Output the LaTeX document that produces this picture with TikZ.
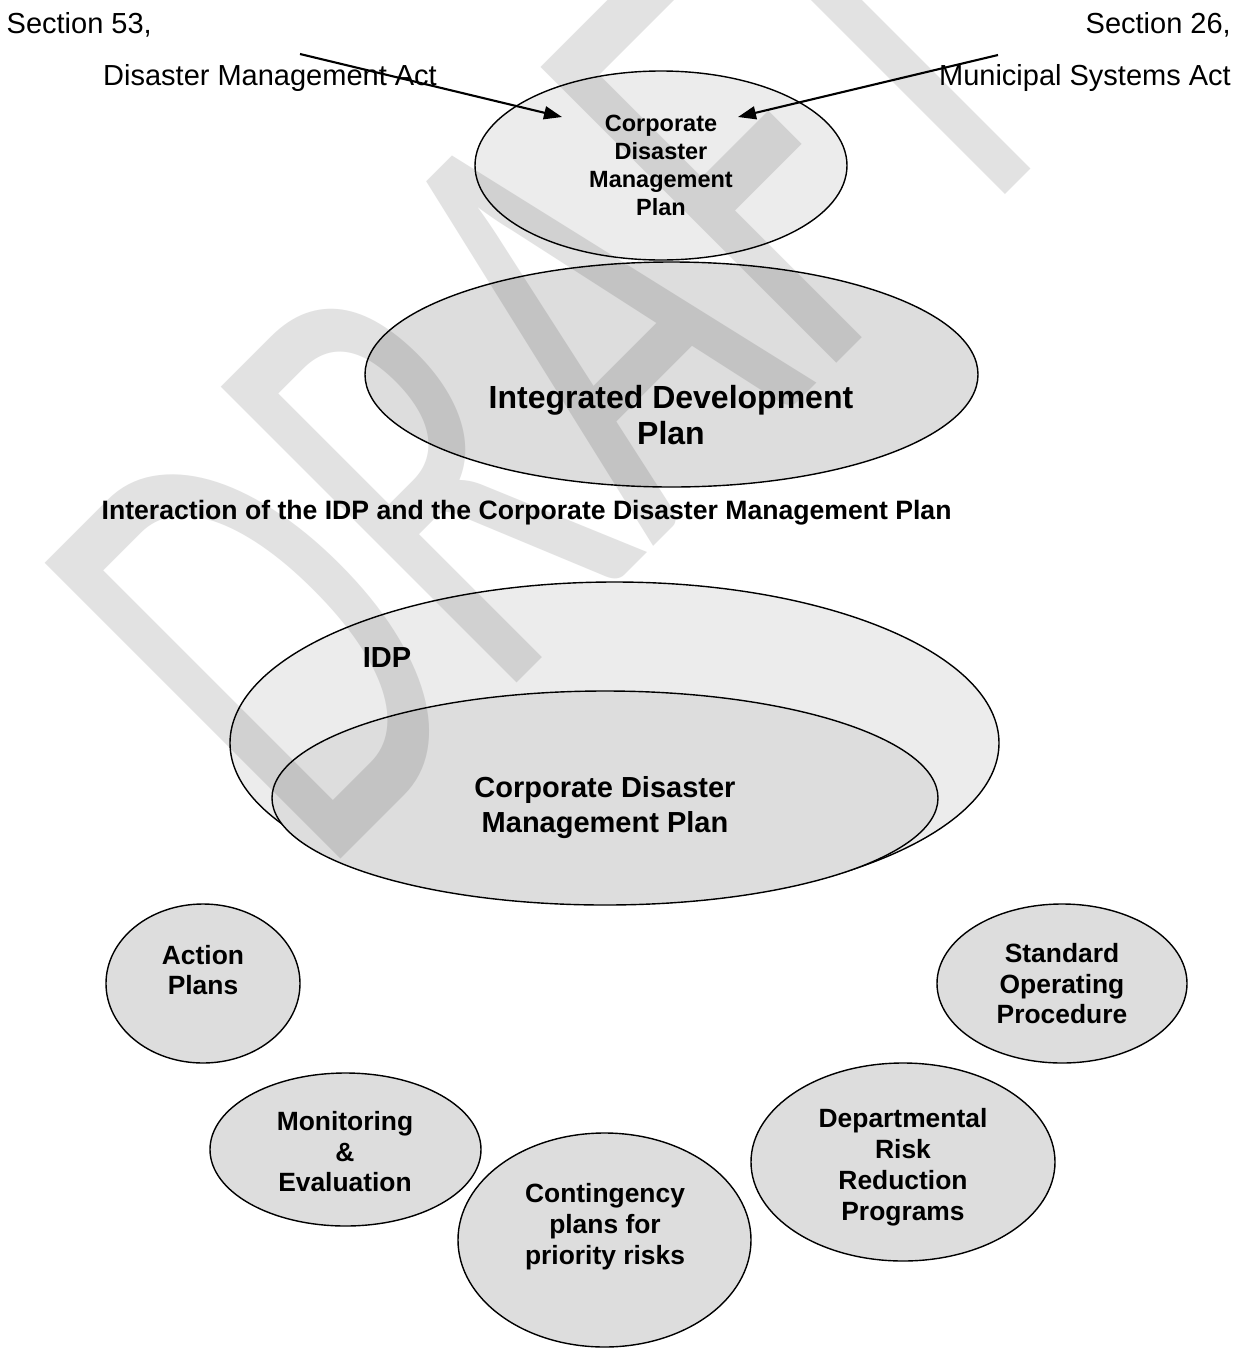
\documentclass[tikz,border=0pt]{standalone}
\usepackage{fontspec}
\setmainfont{Liberation Sans}
\newfontfamily\wmfont[FakeStretch=0.62]{Carlito}
\usetikzlibrary{arrows.meta,shapes.geometric}
\definecolor{lightfill}{gray}{0.925}
\definecolor{midfill}{gray}{0.867}
\definecolor{wmgray}{gray}{0.885}
\begin{document}
\begin{tikzpicture}[x=1pt,y=-1pt,
  bubble/.style={ellipse, draw=black, line width=1.4pt, inner sep=0pt, outer sep=0pt},
  lightbub/.style={bubble, fill=lightfill},
  midbub/.style={bubble, fill=midfill},
  lbl/.style={align=center, inner sep=0pt, text=black},
  plain/.style={inner sep=0pt, font=\fontsize{29}{33}\selectfont},
  arr/.style={line width=2.1pt, -{Triangle[length=18pt,width=13pt]}}]
\useasboundingbox (0,0) rectangle (1246,1350);
\fill[white] (0,0) rectangle (1246,1350);

% top part
\node[lightbub, minimum width=372, minimum height=189] (cdmpTop) at (661,165.5) {};
\node[midbub, minimum width=613, minimum height=225] (idpTop) at (671.5,374.5) {};
\node[lbl, font=\bfseries\fontsize{23.5}{28}\selectfont] (tTop) at (661,165) {Corporate\\Disaster\\Management\\Plan};
\node[lbl, font=\bfseries\fontsize{32}{36}\selectfont] (tIdp) at (671,415) {Integrated Development\\Plan};

\node[plain, anchor=base west] (s53) at (6.5,33.7) {Section 53,};
\node[plain, anchor=base west] (dma) at (103,85.4) {Disaster Management Act};
\node[plain, anchor=base east] (s26) at (1231,33.7) {Section 26,};
\node[plain, anchor=base east] (msa) at (1231,85.4) {Municipal Systems Act};

\coordinate (aL1) at (300,54);
\coordinate (aL2) at (562,117);
\coordinate (aR1) at (998,55);
\coordinate (aR2) at (738,117);
\draw[arr] (aL1) -- (aL2);
\draw[arr] (aR1) -- (aR2);

\node[lbl, anchor=base west, font=\bfseries\fontsize{26.6}{30}\selectfont] (cap) at (101.5,519.5) {Interaction of the IDP and the Corporate Disaster Management Plan};

% lower part
\node[lightbub, minimum width=769, minimum height=322] (idpBig) at (614.5,743) {};
\node[midbub, minimum width=666, minimum height=214] (cdmpIn) at (605,798) {};
\node[lbl, font=\bfseries\fontsize{29}{33}\selectfont] (tIdpLbl) at (387,658) {IDP};
\node[lbl, font=\bfseries\fontsize{29}{35}\selectfont] (tIn) at (605,808) {Corporate Disaster\\Management Plan};

\node[midbub, minimum width=194, minimum height=159] (act) at (203,983.5) {};
\node[midbub, minimum width=271, minimum height=153] (mon) at (345.5,1149.5) {};
\node[midbub, minimum width=293, minimum height=214] (con) at (604.5,1240) {};
\node[midbub, minimum width=304, minimum height=198] (dep) at (903,1162) {};
\node[midbub, minimum width=250, minimum height=159] (std) at (1062,983.5) {};

\node[lbl, font=\bfseries\fontsize{26.4}{30.5}\selectfont] (tAct) at (203,970) {Action\\Plans};
\node[lbl, font=\bfseries\fontsize{26.4}{30.5}\selectfont] (tMon) at (345,1152) {Monitoring\\\&\\Evaluation};
\node[lbl, font=\bfseries\fontsize{26.4}{31}\selectfont] (tCon) at (605,1226.5) {Contingency\\plans for\\priority risks};
\node[lbl, font=\bfseries\fontsize{26.4}{31}\selectfont] (tDep) at (903,1167) {Departmental\\Risk\\Reduction\\Programs};
\node[lbl, font=\bfseries\fontsize{26.4}{30.5}\selectfont] (tStd) at (1062,984) {Standard\\Operating\\Procedure};

% watermark
\begin{scope}[blend mode=multiply]
\node[anchor=base west, rotate=45, inner sep=0pt, text=wmgray, font=\wmfont\fontsize{652}{652}\selectfont] (wm) at (321,879) {DRAFT};
\end{scope}
\end{tikzpicture}
\end{document}
